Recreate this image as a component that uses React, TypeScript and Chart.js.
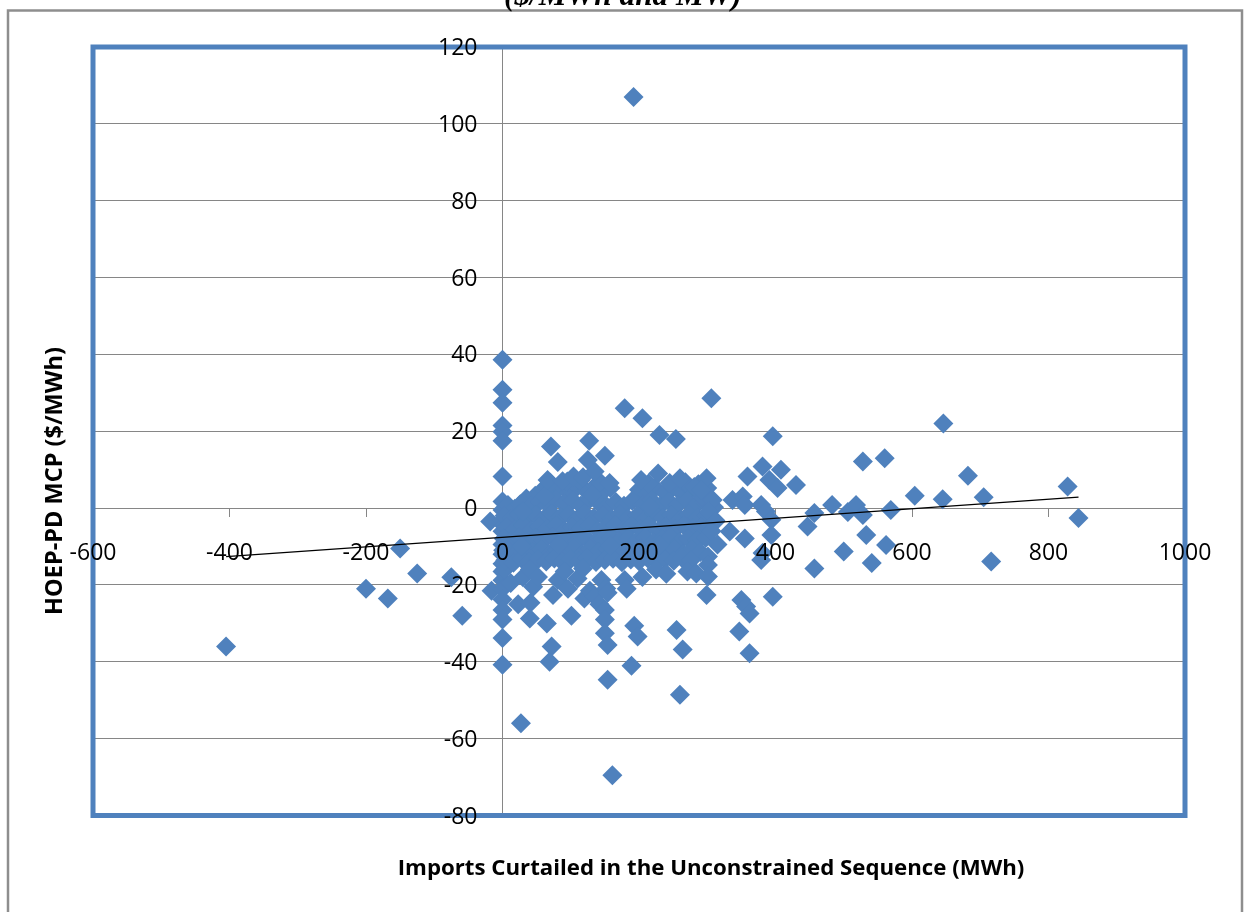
import { useEffect, useRef } from "react";
import { Chart, registerables } from "chart.js";

Chart.register(...registerables);

// ---------- texts ----------
const chartTitle = "($/MWh and MW)";
const xAxisTitle = "Imports Curtailed in the Unconstrained Sequence (MWh)";
const yAxisTitle = "HOEP-PD MCP ($/MWh)";

// ---------- tick labels ----------
const xTicks = [-600, -400, -200, 0, 200, 400, 600, 800, 1000];
const yTicks = [-80, -60, -40, -20, 0, 20, 40, 60, 80, 100, 120];

// ---------- data: [imports curtailed (MWh), HOEP-PD MCP ($/MWh)] ----------
const negativeImports: [number, number][] = [
  [-405, -36], [-200, -21], [-168, -23.5], [-150, -10.5], [-125, -17],
  [-75, -18], [-59, -28], [-18, -3.5], [-16, -21.5],
];

const zeroImports: [number, number][] = [
  [0, 38.6], [0, 30.8], [0, 27.4], [0, 21.5], [0, 19.9], [0, 17.5], [0, 8.2],
  [0, 1.7], [0, -0.5], [0, -3.2], [0, -6], [0, -9.5], [0, -12], [0, -14.5],
  [0, -16.5], [0, -18.8], [0, -21], [0, -23.8], [0, -26.5], [0, -29],
  [0, -33.8], [0, -40.8], [2, -4.5], [1, -11], [3, -16],
];

const coreCluster: [number, number][] = [
  [35, 2.5], [48, 3.2], [60, 5.0], [72, 4.2], [84, 5.4], [97, 4.0], [110, 5.6], [122, 4.6], [136, 5.8], [148, 4.4],
  [158, 5.2], [200, 4.8], [212, 3.6], [224, 5.2], [238, 4.0], [250, 5.4], [263, 3.8], [276, 5.0], [289, 4.2], [300, 5.2],
  [8, 0.8], [18, -0.2], [26, 1.0], [42, 0.6], [55, 1.8], [66, 0.9], [78, 2.2], [90, 1.1], [103, 2.0], [115, 0.7],
  [128, 2.4], [141, 1.3], [153, 0.4], [166, 1.6], [178, 0.6], [190, 1.9], [205, 0.9], [218, 2.1], [231, 0.5], [244, 1.7],
  [257, 0.8], [270, 2.0], [283, 0.6], [296, 1.5], [310, 0.2],
  [3, -2.0], [14, -2.8], [24, -1.6], [36, -2.6], [48, -1.8], [60, -2.9], [72, -1.4], [85, -2.4], [97, -1.7], [109, -2.9],
  [121, -1.5], [134, -2.5], [147, -1.9], [160, -2.8], [172, -1.6], [184, -2.7], [197, -2.0], [209, -2.9], [222, -1.5],
  [235, -2.6], [248, -1.8], [261, -2.9], [273, -1.6], [286, -2.5], [299, -1.9], [312, -3.2],
  [6, -5.0], [18, -5.6], [30, -4.6], [42, -5.8], [54, -4.8], [66, -5.5], [78, -4.5], [91, -5.9], [103, -4.9], [115, -5.4],
  [127, -4.6], [140, -5.8], [152, -5.0], [165, -4.4], [177, -5.7], [189, -4.7], [202, -5.5], [215, -4.5], [228, -5.9],
  [240, -4.8], [253, -5.6], [266, -4.6], [279, -5.3], [292, -4.9], [305, -5.8],
  [2, -8.0], [12, -8.6], [24, -7.6], [36, -8.9], [48, -7.8], [60, -8.4], [73, -7.5], [85, -8.8], [97, -7.9], [110, -8.5],
  [122, -7.7], [135, -9.0], [147, -8.0], [159, -7.6], [171, -8.7], [184, -7.9], [196, -8.6], [209, -7.7], [221, -8.9],
  [234, -8.1], [246, -7.6], [259, -8.8], [272, -7.9], [285, -8.5], [298, -7.7],
  [8, -11.0], [20, -11.8], [32, -10.6], [44, -11.5], [56, -10.8], [68, -12.0], [80, -10.9], [92, -11.6], [104, -10.5],
  [117, -11.9], [129, -10.7], [141, -11.4], [154, -10.6], [166, -12.0], [178, -11.0], [190, -11.7], [203, -10.6],
  [215, -11.8], [227, -10.9], [240, -11.5], [252, -10.6], [265, -11.9], [278, -10.8], [290, -11.4],
  [4, -13.6], [16, -14.2], [28, -13.2], [40, -14.0], [52, -13.4], [64, -13.9], [76, -13.1], [88, -14.1], [100, -13.3],
  [112, -13.9], [125, -13.0], [137, -14.0], [150, -13.5], [162, -13.2], [175, -14.1], [188, -13.4], [200, -13.8],
  [213, -13.1], [226, -13.9], [238, -13.3], [251, -13.7], [263, -13.0], [276, -13.6],
  [70, 6.6], [95, 6.9], [114, 7.2], [143, 6.8], [214, 6.4], [268, 6.7], [287, 6.2],
  [30, -0.9], [62, 3.1], [131, 3.6], [216, 0.4], [292, 3.0], [158, -9.8], [230, -9.6], [82, -9.7], [28, -9.9],
];

const upperScatter: [number, number][] = [
  [66, 7.3], [88, 7.0], [104, 8.2], [118, 8.0], [135, 9.5], [157, 6.5], [203, 7.3], [228, 9.0], [245, 6.5],
  [260, 7.8], [281, 5.5], [299, 7.8], [291, 4.7], [71, 16], [81, 12], [125, 12.5], [127, 17.5], [150, 13.6],
  [179, 26], [205, 23.4], [230, 19], [254, 18], [306, 28.6], [192, 107],
];

const lowerScatter: [number, number][] = [
  [12, -19.5], [23, -25], [30, -18], [40, -16], [41, -24.6], [45, -20.5], [40, -28.7], [52, -17.9], [65, -30],
  [72, -36], [69, -40], [27, -56], [74, -22.6], [81, -18.7], [91, -16.5], [96, -21], [101, -28], [110, -18.3],
  [118, -15.7], [120, -23.5], [128, -21.5], [135, -23], [142, -25], [145, -18.7], [150, -26.5], [150, -29],
  [150, -32.6], [152, -20.9], [154, -22], [154, -35.6], [154, -44.7], [161, -69.5], [179, -18.7], [182, -21],
  [189, -41], [193, -30.6], [198, -33.4], [205, -17.9], [225, -16], [240, -17.1], [255, -31.7], [260, -48.6],
  [264, -36.8], [271, -16.5], [284, -17], [299, -22.6], [301, -12.6], [301, -14.8], [301, -17.8],
];

const midImports: [number, number][] = [
  [308, 2.1], [303, -0.9], [312, -3.5], [306, -6], [315, -9.5], [337, 2.1], [352, 3], [355, 0.8], [333, -6.1],
  [355, -7.9], [359, 8.2], [381, 10.8], [408, 10], [391, 7.3], [403, 5.2], [396, 18.7], [430, 6], [379, 0.8],
  [386, -0.9], [394, -3], [394, -7], [381, -11.7], [379, -13.5], [350, -23.9], [357, -25.6], [362, -27.4],
  [347, -32.1], [362, -37.8], [396, -23.1], [457, -1.3], [447, -4.8], [457, -15.7], [483, 0.8], [506, -1],
  [518, 0.8], [528, -1.8], [533, -7], [500, -11.3], [541, -14.3], [562, -9.6], [569, -0.5], [528, 12.1],
  [560, 13], [604, 3.2],
];

const highImports: [number, number][] = [
  [646, 22], [645, 2.3], [682, 8.4], [705, 2.8], [716, -13.9], [828, 5.6], [844, -2.6],
];

// linear trendline
const trendSlope = 0.0124;
const trendIntercept = -7.6;

const BLUE = "#4F81BD";
const GRID = "#868686";

const allPoints = [
  ...negativeImports, ...zeroImports, ...coreCluster, ...upperScatter,
  ...lowerScatter, ...midImports, ...highImports,
];

function fitFontSize(ctx: CanvasRenderingContext2D, text: string, weight: string, family: string, target: number) {
  ctx.font = `${weight} 20px ${family}`;
  const w = ctx.measureText(text).width;
  return (20 * target) / w;
}

const decorPlugin = {
  id: "decor",
  beforeDraw(chart: any) {
    const { ctx, width, height } = chart;
    ctx.save();
    ctx.fillStyle = "#ffffff";
    ctx.fillRect(0, 0, width, height);
    ctx.strokeStyle = "#8e8e8e";
    ctx.lineWidth = 2.5;
    ctx.strokeRect(8, 10.5, 1234, height + 40);
    const ts = fitFontSize(ctx, chartTitle, "italic bold", "'Liberation Serif'", 238);
    ctx.font = `italic bold ${ts}px 'Liberation Serif'`;
    ctx.fillStyle = "#000";
    ctx.textAlign = "center";
    ctx.textBaseline = "alphabetic";
    ctx.fillText(chartTitle, 623, 5);
    ctx.restore();
  },
  afterDraw(chart: any) {
    const { ctx, chartArea: a, scales } = chart;
    ctx.save();
    ctx.strokeStyle = BLUE;
    ctx.lineWidth = 5;
    ctx.strokeRect(a.left, a.top, a.right - a.left, a.bottom - a.top);

    const x0 = scales.x.getPixelForValue(0);
    const y0 = scales.y.getPixelForValue(0);
    ctx.fillStyle = "#000";
    ctx.font = "23px 'Open Sans'";
    ctx.textBaseline = "alphabetic";
    ctx.textAlign = "right";
    for (const v of yTicks) ctx.fillText(String(v), x0 - 25, scales.y.getPixelForValue(v) + 8);
    ctx.textAlign = "center";
    for (const v of xTicks) ctx.fillText(String(v), scales.x.getPixelForValue(v), y0 + 52);

    // axis titles
    const xs = fitFontSize(ctx, xAxisTitle, "bold", "'Open Sans'", 627);
    ctx.font = `bold ${xs}px 'Open Sans'`;
    ctx.textAlign = "center";
    ctx.fillText(xAxisTitle, 711, 875);

    const ys = fitFontSize(ctx, yAxisTitle, "bold", "'Open Sans'", 268);
    ctx.font = `bold ${ys}px 'Open Sans'`;
    ctx.translate(62, 481);
    ctx.rotate(-Math.PI / 2);
    ctx.fillText(yAxisTitle, 0, 0);
    ctx.restore();
  },
};

export default function App() {
  const canvasRef = useRef<HTMLCanvasElement | null>(null);

  useEffect(() => {
    const canvas = canvasRef.current;
    if (!canvas) return;
    const xsAll = allPoints.map((p) => p[0]);
    const minX = Math.min(...xsAll);
    const maxX = Math.max(...xsAll);
    const chart = new Chart(canvas, {
      type: "scatter",
      data: {
        datasets: [
          {
            type: "line",
            label: "Linear trend",
            data: [
              { x: minX, y: trendIntercept + trendSlope * minX },
              { x: maxX, y: trendIntercept + trendSlope * maxX },
            ],
            borderColor: "#000000",
            borderWidth: 1.3,
            pointRadius: 0,
            fill: false,
            order: 0,
          } as any,
          {
            label: "HOEP-PD MCP",
            data: allPoints.map(([x, y]) => ({ x, y })),
            pointStyle: "rectRot",
            pointRadius: 10,
            pointHoverRadius: 10,
            backgroundColor: BLUE,
            borderColor: BLUE,
            borderWidth: 0,
            order: 1,
          },
        ],
      },
      options: {
        responsive: false,
        animation: false,
        events: [],
        layout: { padding: { left: 93, top: 47, right: 60, bottom: 96.5 } },
        plugins: {
          legend: { display: false },
          tooltip: { enabled: false },
          title: { display: false },
        },
        scales: {
          x: {
            type: "linear",
            min: -600,
            max: 1000,
            position: { y: 0 } as any,
            afterBuildTicks: (s: any) => {
              s.ticks = xTicks.map((v) => ({ value: v }));
            },
            ticks: { display: false },
            grid: { drawOnChartArea: false, drawTicks: true, tickLength: 8, color: GRID, lineWidth: 1 },
            border: { display: true, color: GRID, width: 1 },
          },
          y: {
            type: "linear",
            min: -80,
            max: 120,
            position: { x: 0 } as any,
            afterBuildTicks: (s: any) => {
              s.ticks = yTicks.map((v) => ({ value: v }));
            },
            ticks: { display: false },
            grid: { drawOnChartArea: true, drawTicks: true, tickLength: 8, color: GRID, lineWidth: 1 },
            border: { display: true, color: GRID, width: 1 },
          },
        },
      },
      plugins: [decorPlugin],
    });
    return () => chart.destroy();
  }, []);

  return (
    <div style={{ position: "absolute", left: 0, top: 0, width: 1245, height: 912, overflow: "hidden", background: "#fff" }}>
      <canvas ref={canvasRef} width={1245} height={912} style={{ display: "block" }} />
    </div>
  );
}
